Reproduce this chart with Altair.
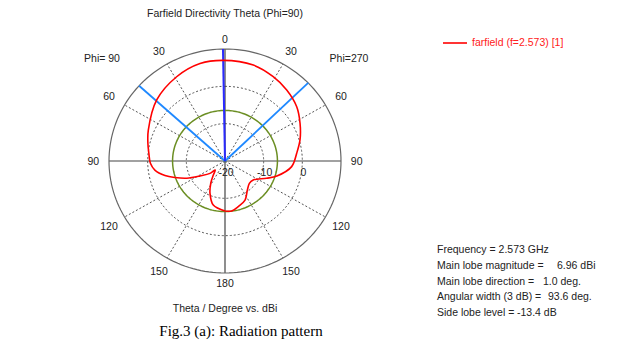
import altair as alt
import pandas as pd
import numpy as np

# ---------------- data ----------------
# red farfield curve: theta (deg, right side = Phi=270 positive, left side = Phi=90 negative), directivity dBi
theta_deg = [-180, -165.6, -155.9, -148.3, -141, -136, -133, -130.5, -121.8, -115, -108.8,
             -104, -97.6, -91.8, -84, -76.6, -67.3, -47.2, -29, -13.9, -1, 15.9, 28.9, 40, 51.9, 62.5,
             73.8, 83.6, 95, 106.7, 113.3, 124.9, 133.6, 143.4, 153.7, 164.3, 172.6, 180]
dbi = [-6.6, -7.8, -10.5, -13.0, -15.2, -16.3, -16.5, -14.9, -12.4, -9.1, -6.3,
       -4.0, -1.7, -0.7, -0.2, 0.5, 1.5, 4.07, 5.8, 6.9, 6.96, 6.73, 5.8, 4.83, 3.57, 1.88,
       0.2, -1.34, -2.7, -6.0, -8.3, -11.1, -11.3, -10.3, -8.3, -7.3, -6.5, -6.6]

r_min_db = -20.0          # centre of the polar grid
r_max_db = 10.0           # outer circle
dashed_rings_db = [-10, 0]
green_ring_db = -6.44     # main lobe - side lobe level
main_dir_deg = -1.0
beam_edges_deg = [-47.8, 45.8]
dashed_spokes_deg = [30, 60, 120, 150, -30, -60, -120, -150]
solid_spokes_deg = [0, 90, 180, -90]

angle_label_deg = [0, 30, 60, 90, 120, 150, 180, -30, -60, -90, -120, -150]
angle_label_txt = ["0", "30", "60", "90", "120", "150", "180", "30", "60", "90", "120", "150"]
radial_label_db = [-20, -10, 0]

info_labels = ["Frequency = 2.573 GHz", "Main lobe magnitude =", "Main lobe direction =",
               "Angular width (3 dB) =", "Side lobe level ="]
info_values = ["", "6.96 dBi", "1.0 deg.", "93.6 deg.", "-13.4 dB"]

# ---------------- geometry ----------------
W, H = 622, 348
CX, CY, RX, RY = 225.0, 161.0, 116.0, 112.0
xscale = alt.Scale(domain=[-CX / RX, (W - CX) / RX], nice=False, zero=False)
yscale = alt.Scale(domain=[-(H - CY) / RY, CY / RY], nice=False, zero=False)
SPAN = r_max_db - r_min_db
FONT = "Liberation Sans"

def X():
    return alt.X("x:Q", scale=xscale, axis=None)

def Y():
    return alt.Y("y:Q", scale=yscale, axis=None)

def polar(chart, rexpr, aexpr):
    return chart.transform_calculate(
        rr=rexpr, aa=aexpr
    ).transform_calculate(
        x="datum.rr * sin(datum.aa * PI / 180)",
        y="datum.rr * cos(datum.aa * PI / 180)",
    )

def ring_df(levels):
    rows = []
    for lv in levels:
        for i, a in enumerate(range(0, 362, 2)):
            rows.append({"lv": lv, "i": i, "a": a})
    return pd.DataFrame(rows)

def spoke_df(angles):
    rows = []
    for a in angles:
        rows.append({"a": a, "r": 0.0, "i": 0})
        rows.append({"a": a, "r": 1.0, "i": 1})
    return pd.DataFrame(rows)

rexpr_db = f"(datum.lv - ({r_min_db})) / {SPAN}"

dashed_rings = polar(alt.Chart(ring_df(dashed_rings_db)), rexpr_db, "datum.a").mark_line(
    color="#555555", strokeWidth=1, strokeDash=[2, 2]
).encode(x=X(), y=Y(), detail="lv:N", order="i:Q")

outer_ring = polar(alt.Chart(ring_df([r_max_db])), rexpr_db, "datum.a").mark_line(
    color="#666666", strokeWidth=1.2
).encode(x=X(), y=Y(), detail="lv:N", order="i:Q")

green_ring = polar(alt.Chart(ring_df([green_ring_db])), rexpr_db, "datum.a").mark_line(
    color="#6b8e23", strokeWidth=1.5
).encode(x=X(), y=Y(), detail="lv:N", order="i:Q")

dashed_spokes = polar(alt.Chart(spoke_df(dashed_spokes_deg)), "datum.r", "datum.a").mark_line(
    color="#555555", strokeWidth=1, strokeDash=[2, 2]
).encode(x=X(), y=Y(), detail="a:N", order="i:Q")

solid_spokes = polar(alt.Chart(spoke_df(solid_spokes_deg)), "datum.r", "datum.a").mark_line(
    color="#444444", strokeWidth=1.2
).encode(x=X(), y=Y(), detail="a:N", order="i:Q")

beam_lines = polar(alt.Chart(spoke_df(beam_edges_deg)), "datum.r", "datum.a").mark_line(
    color="#1e88ff", strokeWidth=1.8
).encode(x=X(), y=Y(), detail="a:N", order="i:Q")

main_line = polar(alt.Chart(spoke_df([main_dir_deg])), "datum.r", "datum.a").mark_line(
    color="#2a2aff", strokeWidth=2
).encode(x=X(), y=Y(), detail="a:N", order="i:Q")

curve_df = pd.DataFrame({"t": theta_deg, "d": dbi, "i": list(range(len(dbi)))})
curve = polar(alt.Chart(curve_df), f"(datum.d - ({r_min_db})) / {SPAN}", "datum.t").mark_line(
    color="#ff0000", strokeWidth=1.6, interpolate="catmull-rom"
).encode(x=X(), y=Y(), order="i:Q")

# angle labels
alab_df = pd.DataFrame({"a": angle_label_deg, "txt": angle_label_txt})
angle_labels = polar(alt.Chart(alab_df), "1.09 + 0.045 * abs(sin(datum.a * PI / 180)) + 0.03 * abs(sin(2 * datum.a * PI / 180))", "datum.a").mark_text(
    font=FONT, fontSize=10.5, color="#222222", align="center", baseline="middle", dy=1
).encode(x=X(), y=Y(), text="txt:N")

# radial labels
rlab_df = pd.DataFrame({"lv": radial_label_db})
radial_labels = alt.Chart(rlab_df).transform_calculate(
    x=rexpr_db, y="0", txt="toString(datum.lv)"
).mark_text(
    font=FONT, fontSize=10.5, color="#222222", align="center", baseline="middle", dy=12, dx=1
).encode(x=X(), y=Y(), text="txt:N")

def txt(s, x, y, align="center", size=10.5, color="#222222", font=FONT):
    return alt.Chart(pd.DataFrame({"s": [s]})).mark_text(
        font=font, fontSize=size, color=color, align=align, baseline="middle"
    ).encode(x=alt.value(x), y=alt.value(y), text="s:N")

texts = [
    txt("Farfield Directivity Theta (Phi=90)", 225, 14),
    txt("Phi= 90", 102, 59),
    txt("Phi=270", 349, 59),
    txt("Theta / Degree vs. dBi", 225, 309),
    txt("Fig.3 (a): Radiation pattern", 241, 331, size=15, color="#000000", font="Liberation Serif"),
    txt("farfield (f=2.573) [1]", 472, 43, align="left", color="#ff2020"),
]
info_x_vals = [0, 557, 543, 548, 517]
row_y = 250
for k, (lab, val) in enumerate(zip(info_labels, info_values)):
    yy = row_y + 15.8 * k
    texts.append(txt(lab, 437, yy, align="left"))
    if val:
        texts.append(txt(val, info_x_vals[k], yy, align="left"))

legend_line = alt.Chart(pd.DataFrame({"k": [0]})).mark_rule(color="#ff0000", strokeWidth=1.6).encode(
    x=alt.value(443), x2=alt.value(467), y=alt.value(43)
)

chart = alt.layer(
    dashed_rings, dashed_spokes, solid_spokes, outer_ring, green_ring,
    beam_lines, main_line, curve, angle_labels, radial_labels, legend_line, *texts
).properties(
    width=W, height=H, autosize=alt.AutoSizeParams(type="none"), padding=0, background="white"
).configure_view(stroke=None)

chart.save("out.html", embed_options={"renderer": "svg", "actions": False})
